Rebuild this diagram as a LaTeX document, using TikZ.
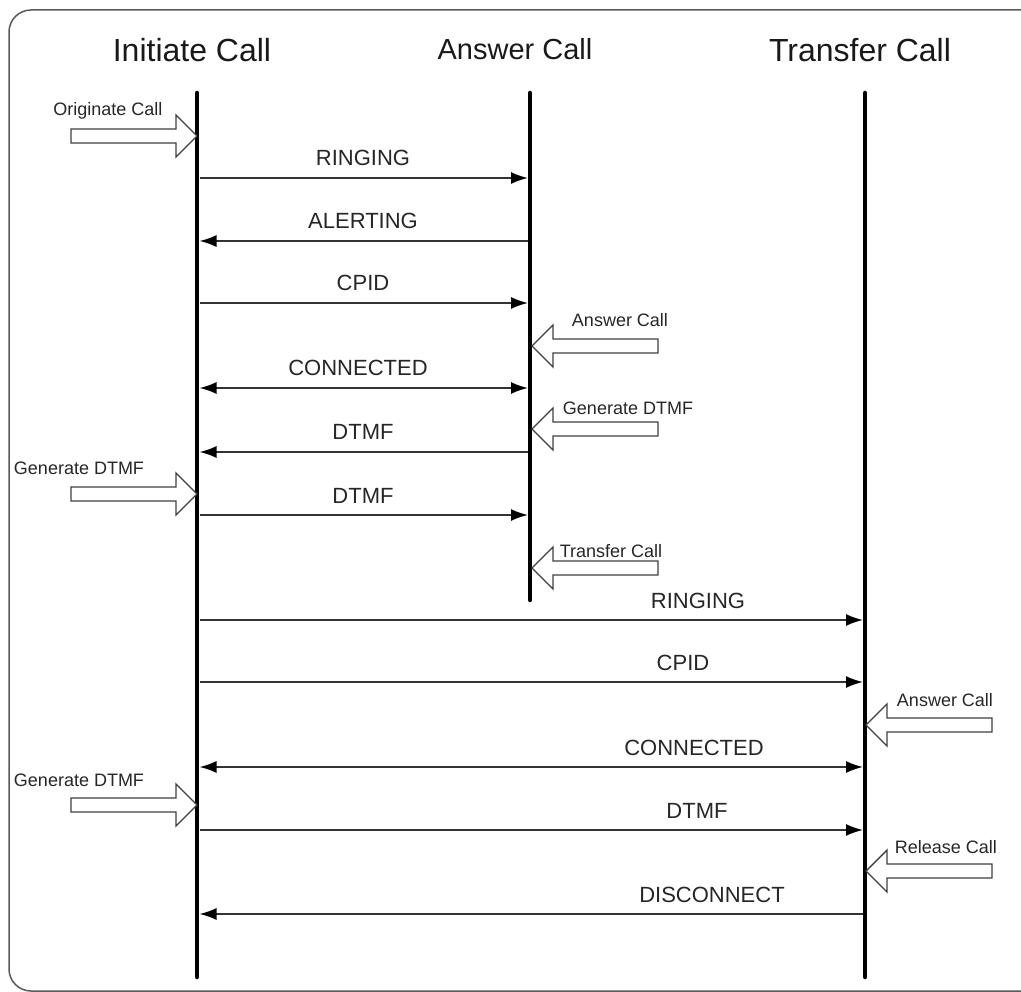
\documentclass[tikz,border=0pt]{standalone}
\usepackage{fontspec}
\setmainfont{Liberation Sans}
\usetikzlibrary{arrows.meta}
\begin{document}
\begin{tikzpicture}[x=1pt,y=-1pt,
  lifeline/.style={line width=4.5pt, line cap=round, black},
  tip/.tip={Latex[length=17pt,width=12pt,color=black]},
  msg/.style={line width=1.8pt, draw=black!80, -tip},
  msgboth/.style={line width=1.8pt, draw=black!80, tip-tip},
  title/.style={font=\fontsize{32}{36}\selectfont, anchor=base, inner sep=0pt, text=black!90},
  mlabel/.style={font=\fontsize{22}{26}\selectfont, anchor=base, text=black!85, inner sep=0pt},
  slabel/.style={font=\fontsize{18}{21}\selectfont, anchor=base, text=black!85, inner sep=0pt},
  blockarrow/.style={draw=black!75, line width=1.4pt, fill=white, line join=miter},
  rblock/.pic={\draw[blockarrow] (0,0) -- (-21,-21) -- (-21,-7) -- (-126,-7) -- (-126,7) -- (-21,7) -- (-21,21) -- cycle;},
  lblock/.pic={\draw[blockarrow] (0,0) -- (21,-21) -- (21,-7) -- (126,-7) -- (126,7) -- (21,7) -- (21,21) -- cycle;}]

\useasboundingbox (0,0) rectangle (1021,992);
% outer frame, running off the right edge
\begin{scope}
  \clip (0,0) rectangle (1021,992);
  \draw[line width=1.5pt, black!65, rounded corners=22pt] (9,10) rectangle (1070,991);
\end{scope}

% titles
\node[title] (tI) at (192,62) {Initiate Call};
\node[title, font=\fontsize{29}{34}\selectfont] (tA) at (515,60) {Answer Call};
\node[title] (tT) at (860,62) {Transfer Call};

% lifelines
\coordinate (I0) at (197,93);  \coordinate (I1) at (197,977);
\coordinate (A0) at (530,93);  \coordinate (A1) at (530,600);
\coordinate (T0) at (865,93);  \coordinate (T1) at (865,977);
\draw[lifeline] (I0) -- (I1);
\draw[lifeline] (A0) -- (A1);
\draw[lifeline] (T0) -- (T1);

% message end points on the lifelines
\foreach \n/\y in {1/178,2/241,3/303,4/388,5/452,6/515,7/620,8/682,9/767,10/830,11/914}{
  \coordinate (i\n) at (199.5,\y);
  \coordinate (a\n) at (528,\y);
  \coordinate (t\n) at (863,\y);
}

% messages between Initiate and Answer
\draw[msg] (i1) -- (a1);
\node[mlabel] (l1) at (363,166) {RINGING};
\draw[msg] (a2) -- (i2);
\node[mlabel] (l2) at (363,229) {ALERTING};
\draw[msg] (i3) -- (a3);
\node[mlabel] (l3) at (363,291) {CPID};
\draw[msgboth] (i4) -- (a4);
\node[mlabel] (l4) at (358,376) {CONNECTED};
\draw[msg] (a5) -- (i5);
\node[mlabel] (l5) at (363,440) {DTMF};
\draw[msg] (i6) -- (a6);
\node[mlabel] (l6) at (363,503) {DTMF};

% messages between Initiate and Transfer
\draw[msg] (i7) -- (t7);
\node[mlabel] (l7) at (698,608) {RINGING};
\draw[msg] (i8) -- (t8);
\node[mlabel] (l8) at (683,670) {CPID};
\draw[msgboth] (i9) -- (t9);
\node[mlabel] (l9) at (694,755) {CONNECTED};
\draw[msg] (i10) -- (t10);
\node[mlabel] (l10) at (697,818) {DTMF};
\draw[msg] (t11) -- (i11);
\node[mlabel] (l11) at (712,902) {DISCONNECT};

% user actions (hollow block arrows)
\pic at (197,136) {rblock};
\node[slabel] (u1) at (108,116) {Originate Call};
\pic at (532,346) {lblock};
\node[slabel] (u2) at (620,327) {Answer Call};
\pic at (532,429) {lblock};
\node[slabel] (u3) at (628,415) {Generate DTMF};
\pic at (197,494) {rblock};
\node[slabel] (u4) at (79,475) {Generate DTMF};
\pic at (532,568) {lblock};
\node[slabel] (u5) at (611,557) {Transfer Call};
\pic at (866,725) {lblock};
\node[slabel] (u6) at (945,706) {Answer Call};
\pic at (197,805) {rblock};
\node[slabel] (u7) at (79,786) {Generate DTMF};
\pic at (866,871) {lblock};
\node[slabel] (u8) at (946,853) {Release Call};
\end{tikzpicture}
\end{document}
